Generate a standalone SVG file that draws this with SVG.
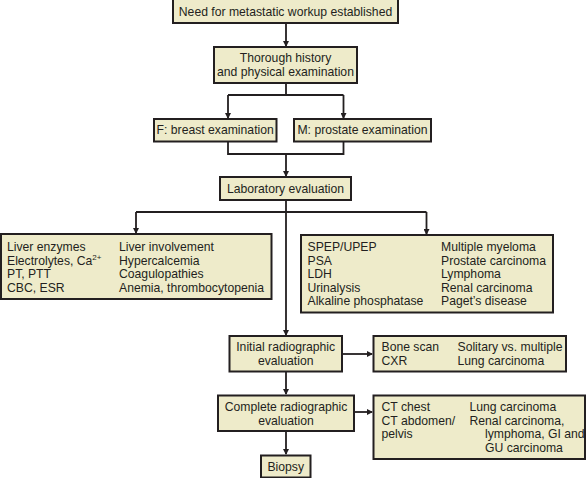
<svg xmlns="http://www.w3.org/2000/svg" width="587" height="478" viewBox="0 0 587 478">
<style>
.box{fill:#EEEBCA;stroke:#231F20;stroke-width:2}
.t{font-family:"Liberation Sans",Arial,sans-serif;font-size:12.2px;fill:#231F20}
.c{text-anchor:middle}
.ln{fill:none;stroke:#231F20;stroke-width:1.8}
</style>
<defs>
<marker id="ah" markerWidth="6" markerHeight="6" refX="5" refY="3" orient="auto" markerUnits="userSpaceOnUse">
<path d="M0,0 L6,3 L0,6 Z" fill="#231F20"/>
</marker>
</defs>
<rect width="587" height="478" fill="#fff"/>
<g id="connectors">
<path class="ln" d="M286,23 V46" marker-end="url(#ah)"/>
<path class="ln" d="M286,83 V95 M228,95 H343.5"/>
<path class="ln" d="M228,95 V118" marker-end="url(#ah)"/>
<path class="ln" d="M343.5,95 V118" marker-end="url(#ah)"/>
<path class="ln" d="M228,141 V154 H343.5 V141"/>
<path class="ln" d="M286,154 V176" marker-end="url(#ah)"/>
<path class="ln" d="M286,200 V335" marker-end="url(#ah)"/>
<path class="ln" d="M136,212 H426.5"/>
<path class="ln" d="M136,212 V233" marker-end="url(#ah)"/>
<path class="ln" d="M426.5,212 V234" marker-end="url(#ah)"/>
<path class="ln" d="M342,354 H372" marker-end="url(#ah)"/>
<path class="ln" d="M286,372 V394" marker-end="url(#ah)"/>
<path class="ln" d="M354,412 H372" marker-end="url(#ah)"/>
<path class="ln" d="M286,431 V454" marker-end="url(#ah)"/>
</g>
<g id="n1"><rect class="box" x="173" y="-1" width="225" height="24"/><text class="t c" x="285.5" y="15.5">Need for metastatic workup established</text></g>
<g id="n2"><rect class="box" x="214" y="47" width="143" height="36"/><text class="t c" x="285.5" y="62">Thorough history</text><text class="t c" x="285.5" y="75.5">and physical examination</text></g>
<g id="n3"><rect class="box" x="154" y="119" width="122.5" height="22.5"/><text class="t c" x="215.2" y="134">F: breast examination</text></g>
<g id="n4"><rect class="box" x="294" y="119" width="137" height="22.5"/><text class="t c" x="362.5" y="134">M: prostate examination</text></g>
<g id="n5"><rect class="box" x="220" y="177" width="131" height="23"/><text class="t c" x="285.5" y="192.5">Laboratory evaluation</text></g>
<g id="n6"><rect class="box" x="1" y="234" width="270.5" height="65"/>
<text class="t" x="7" y="251">Liver enzymes</text>
<text class="t" x="7" y="264.5">Electrolytes, Ca<tspan font-size="8" dy="-5">2+</tspan></text>
<text class="t" x="7" y="278">PT, PTT</text>
<text class="t" x="7" y="291.5">CBC, ESR</text>
<text class="t" x="119" y="251">Liver involvement</text>
<text class="t" x="119" y="264.5">Hypercalcemia</text>
<text class="t" x="119" y="278">Coagulopathies</text>
<text class="t" x="119" y="291.5">Anemia, thrombocytopenia</text>
</g>
<g id="n7"><rect class="box" x="301" y="235" width="252" height="77.5"/>
<text class="t" x="307.5" y="251">SPEP/UPEP</text>
<text class="t" x="307.5" y="264.5">PSA</text>
<text class="t" x="307.5" y="278">LDH</text>
<text class="t" x="307.5" y="291.5">Urinalysis</text>
<text class="t" x="307.5" y="305">Alkaline phosphatase</text>
<text class="t" x="441" y="251">Multiple myeloma</text>
<text class="t" x="441" y="264.5">Prostate carcinoma</text>
<text class="t" x="441" y="278">Lymphoma</text>
<text class="t" x="441" y="291.5">Renal carcinoma</text>
<text class="t" x="441" y="305">Paget’s disease</text>
</g>
<g id="n8"><rect class="box" x="229.5" y="336" width="112.5" height="35.5"/><text class="t c" x="285.7" y="350.5">Initial radiographic</text><text class="t c" x="285.7" y="364.5">evaluation</text></g>
<g id="n9"><rect class="box" x="373.5" y="336" width="192.5" height="35.5"/>
<text class="t" x="381.5" y="350.5">Bone scan</text><text class="t" x="381.5" y="364.5">CXR</text>
<text class="t" x="457.5" y="350.5">Solitary vs. multiple</text><text class="t" x="457.5" y="364.5">Lung carcinoma</text>
</g>
<g id="n10"><rect class="box" x="218" y="395.5" width="136" height="35.5"/><text class="t c" x="286" y="410.5">Complete radiographic</text><text class="t c" x="286" y="424.5">evaluation</text></g>
<g id="n11"><rect class="box" x="373.5" y="395.5" width="211.5" height="63.5"/>
<text class="t" x="381.5" y="411">CT chest</text><text class="t" x="381.5" y="424.5">CT abdomen/</text><text class="t" x="381.5" y="438">pelvis</text>
<text class="t" x="469.5" y="411">Lung carcinoma</text><text class="t" x="469.5" y="424.5">Renal carcinoma,</text><text class="t" x="485" y="438">lymphoma, GI and</text><text class="t" x="485" y="451.5">GU carcinoma</text>
</g>
<g id="n12"><rect class="box" x="261" y="455.5" width="49.5" height="22"/><text class="t c" x="285.7" y="470.5">Biopsy</text></g>
</svg>
